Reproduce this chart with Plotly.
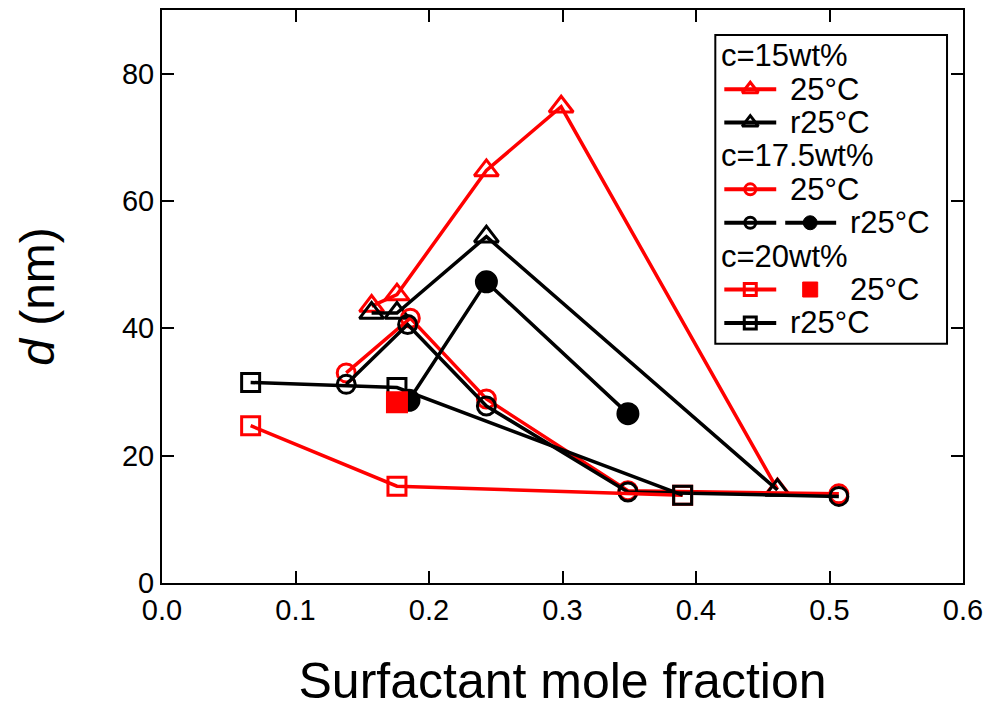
import plotly.graph_objects as go

FONT = "Liberation Sans, Arial, Helvetica, sans-serif"
RED = "#ff0000"
BLACK = "#000000"

# ---------------- data ----------------
# c = 15 wt%
tri15_25_x = [0.157, 0.176, 0.243, 0.299, 0.461]
tri15_25_y = [43.5, 45.3, 64.8, 74.8, 14.7]
tri15_r25_x = [0.157, 0.176, 0.243, 0.461]
tri15_r25_y = [42.4, 42.4, 54.4, 14.6]
# c = 17.5 wt%
cir175_25_x = [0.138, 0.186, 0.243, 0.349, 0.507]
cir175_25_y = [33.0, 41.6, 28.9, 14.5, 14.0]
cir175_r25_x = [0.138, 0.184, 0.243, 0.349, 0.507]
cir175_r25_y = [31.2, 40.6, 27.8, 14.3, 13.6]
cir175_r25f_x = [0.185, 0.243, 0.349]
cir175_r25f_y = [28.7, 47.3, 26.6]
# c = 20 wt%
sq20_25_x = [0.0664, 0.176, 0.390]
sq20_25_y = [24.7, 15.2, 13.8]
sq20_25f_x = [0.176]
sq20_25f_y = [28.4]
sq20_r25_x = [0.0664, 0.176, 0.390]
sq20_r25_y = [31.5, 30.7, 13.8]

x_ticks = [0.0, 0.1, 0.2, 0.3, 0.4, 0.5, 0.6]
y_ticks = [0, 20, 40, 60, 80]

fig = go.Figure()

LW = 3.5
MLW = 3


def add_series(x, y, color, symbol, size, mode="lines+markers"):
    fig.add_trace(go.Scatter(
        x=x, y=y, mode=mode,
        line=dict(color=color, width=LW),
        marker=dict(symbol=symbol, size=size, color=color,
                    line=dict(color=color, width=MLW)),
        showlegend=False, hoverinfo="x+y"))


add_series(tri15_25_x, tri15_25_y, RED, "triangle-up-open", 21)
add_series(tri15_r25_x, tri15_r25_y, BLACK, "triangle-up-open", 21)
add_series(cir175_25_x, cir175_25_y, RED, "circle-open", 18)
add_series(cir175_r25_x, cir175_r25_y, BLACK, "circle-open", 18)
add_series(cir175_r25f_x, cir175_r25f_y, BLACK, "circle", 20)
add_series(sq20_25_x, sq20_25_y, RED, "square-open", 18)
add_series(sq20_r25_x, sq20_r25_y, BLACK, "square-open", 18)
add_series(sq20_25f_x, sq20_25f_y, RED, "square", 19, mode="markers")

# ---------------- manual legend (overlay axes in pixel-like units) ----------------
leg_rows = [
    ("h", "c=15wt%"),
    ("e", "25°C", RED, "triangle-up-open", 14, None),
    ("e", "r25°C", BLACK, "triangle-up-open", 14, None),
    ("h", "c=17.5wt%"),
    ("e", "25°C", RED, "circle-open", 11, None),
    ("e", "r25°C", BLACK, "circle-open", 11, ("line", "circle", 14)),
    ("h", "c=20wt%"),
    ("e", "25°C", RED, "square-open", 12, ("noline", "square", 15)),
    ("e", "r25°C", BLACK, "square-open", 12, None),
]

LEG_FS = 31
row0, rstep = 54, 33.5
annotations = []
for i, row in enumerate(leg_rows):
    yc = row0 + i * rstep
    if row[0] == "h":
        annotations.append(dict(x=720, y=yc, xref="x2", yref="y2", text=row[1],
                                showarrow=False, xanchor="left", yanchor="middle",
                                font=dict(family=FONT, size=LEG_FS, color=BLACK)))
        continue
    _, label, color, sym, msz, extra = row
    fig.add_trace(go.Scatter(x=[725, 777], y=[yc, yc], mode="lines",
                             line=dict(color=color, width=4),
                             xaxis="x2", yaxis="y2", showlegend=False, hoverinfo="skip"))
    fig.add_trace(go.Scatter(x=[751], y=[yc], mode="markers",
                             marker=dict(symbol=sym, size=msz, color=color,
                                         line=dict(color=color, width=3)),
                             xaxis="x2", yaxis="y2", showlegend=False, hoverinfo="skip"))
    tx = 789
    if extra is not None:
        kind, sym2, msz2 = extra
        if kind == "line":
            fig.add_trace(go.Scatter(x=[786, 837], y=[yc, yc], mode="lines",
                                     line=dict(color=color, width=4),
                                     xaxis="x2", yaxis="y2", showlegend=False, hoverinfo="skip"))
        fig.add_trace(go.Scatter(x=[811], y=[yc], mode="markers",
                                 marker=dict(symbol=sym2, size=msz2, color=color,
                                             line=dict(color=color, width=1)),
                                 xaxis="x2", yaxis="y2", showlegend=False, hoverinfo="skip"))
        tx = 849
    annotations.append(dict(x=tx, y=yc, xref="x2", yref="y2", text=label,
                            showarrow=False, xanchor="left", yanchor="middle",
                            font=dict(family=FONT, size=LEG_FS, color=BLACK)))

shapes = [dict(type="rect", xref="x2", yref="y2", x0=716, x1=948, y0=33, y1=343,
               line=dict(color=BLACK, width=2), fillcolor="rgba(0,0,0,0)")]

axis_common = dict(showline=True, linecolor=BLACK, linewidth=2, mirror="ticks",
                   ticks="inside", ticklen=12, tickwidth=2, tickcolor=BLACK,
                   showgrid=False, zeroline=False,
                   tickfont=dict(family=FONT, size=29, color=BLACK))

fig.update_layout(
    width=991, height=709,
    margin=dict(l=162, r=27, t=8, b=126),
    paper_bgcolor="white", plot_bgcolor="white",
    font=dict(family=FONT, color=BLACK),
    xaxis=dict(range=[0, 0.6], tickvals=x_ticks, tickformat=".1f",
               title=dict(text="Surfactant mole fraction",
                          font=dict(family=FONT, size=50, color=BLACK), standoff=40),
               **axis_common),
    yaxis=dict(range=[0, 90], tickvals=y_ticks,
               title=dict(text="<i>d</i> (nm)",
                          font=dict(family=FONT, size=48, color=BLACK), standoff=52),
               **axis_common),
    xaxis2=dict(overlaying="x", range=[162, 964], visible=False, fixedrange=True),
    yaxis2=dict(overlaying="y", range=[583, 8], visible=False, fixedrange=True),
    annotations=annotations,
    shapes=shapes,
    showlegend=False,
)

fig.write_html("out.html")
